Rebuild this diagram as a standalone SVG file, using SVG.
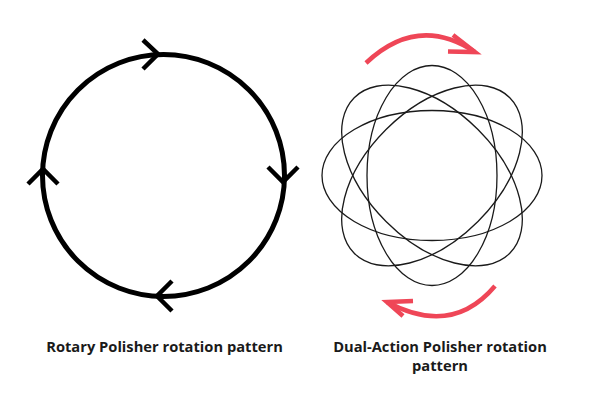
<svg xmlns="http://www.w3.org/2000/svg" width="600" height="400" viewBox="0 0 600 400">
<style>
.rot{fill:none;stroke:#000;stroke-width:5}
.chev{fill:none;stroke:#000;stroke-width:4.5}
.orb{fill:none;stroke:#1a1a1a;stroke-width:1.3}
.red{fill:none;stroke:#ef4657;stroke-width:4.5;stroke-linecap:butt}
.lbl{font-family:"Open Sans","Liberation Sans",sans-serif;font-weight:bold;font-size:14.7px;fill:#1a1a1a;text-anchor:middle}
</style>
<rect width="600" height="400" fill="#fff"/>
<g id="rotary">
<circle class="rot" cx="163.5" cy="175.5" r="121"/>
<path class="chev" d="M143,40 L158,54 L143,69"/>
<path class="chev" d="M268,167 L283,182 L298,167"/>
<path class="chev" d="M28,184 L43,169 L58,184"/>
<path class="chev" d="M172,281 L157,296 L172,311"/>
</g>
<g id="dual-action">
<ellipse class="orb" cx="432" cy="175.5" rx="110" ry="65"/>
<ellipse class="orb" cx="432" cy="175.5" rx="110" ry="65" transform="rotate(45 432 175.5)"/>
<ellipse class="orb" cx="432" cy="175.5" rx="110" ry="65" transform="rotate(90 432 175.5)"/>
<ellipse class="orb" cx="432" cy="175.5" rx="110" ry="65" transform="rotate(135 432 175.5)"/>
<path class="red" d="M366,63 Q418,14 475,52"/>
<path class="red" d="M453,35 L475,52 L448,51.5"/>
<path class="red" d="M495,286 Q452,337 387,302"/>
<path class="red" d="M413,301 L387,302 L403,316"/>
</g>
<g id="labels">
<text class="lbl" x="164.5" y="352">Rotary Polisher rotation pattern</text>
<text class="lbl" x="440" y="352">Dual-Action Polisher rotation</text>
<text class="lbl" x="440" y="371">pattern</text>
</g>
</svg>
